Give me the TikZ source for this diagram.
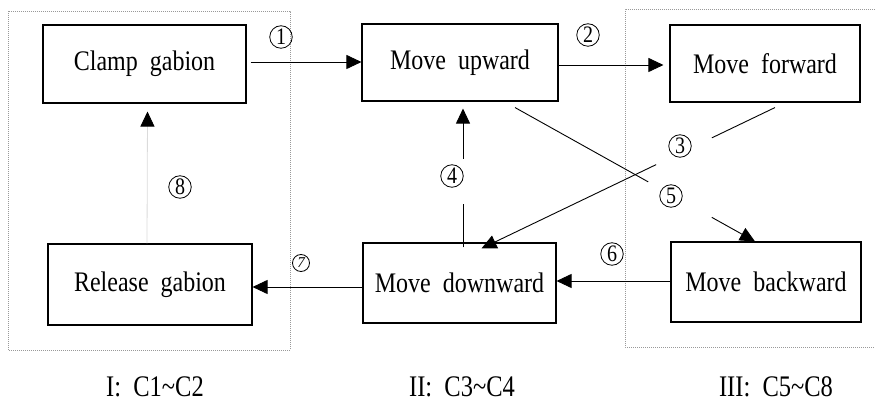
\documentclass[tikz,border=0pt]{standalone}
\usepackage{fontspec}
\usepackage{graphicx}
\setmainfont{Liberation Serif}
\usetikzlibrary{arrows.meta,calc}
\newcommand\vstretch[1]{\scalebox{1}[1.18]{#1}}
\begin{document}
\begin{tikzpicture}[x=1pt,y=-1pt,
  box/.style={draw,line width=1.1pt,rectangle,inner sep=0pt,font=\fontsize{24}{28}\selectfont},
  arr/.style={line width=0.9pt,-{Triangle[length=15pt,width=14pt]}},
  ln/.style={line width=0.9pt},
  num/.style={circle,draw,line width=0.8pt,minimum size=22.5pt,inner sep=0pt,font=\fontsize{20}{20}\selectfont},
  region/.style={draw=gray!80,line width=0.7pt,dash pattern=on 0.9pt off 1.1pt},
  dotarr/.style={draw=gray!80,line width=0.8pt,dash pattern=on 0.9pt off 1.1pt,-{Triangle[length=15pt,width=14pt,color=black]}},
  captext/.style={anchor=base,inner sep=0pt,font=\fontsize{24.5}{30}\selectfont}]
\useasboundingbox (0,0) rectangle (875,403);
% regions
\draw[region] (8,11) rectangle (290,350);
\draw[region] (875,9) -- (625,9) -- (625,347) -- (875,347);
% boxes
\node[box,minimum width=203pt,minimum height=78pt] (clamp) at (144.5,64) {\vstretch{Clamp~~gabion}};
\node[box,minimum width=196pt,minimum height=77pt] (up) at (460,62.5) {\vstretch{Move~~upward}};
\node[box,minimum width=190pt,minimum height=77pt] (fwd) at (765,63.5) {\vstretch{Move~~forward}};
\node[box,minimum width=204pt,minimum height=81pt] (rel) at (150,284.5) {\vstretch{Release~~gabion}};
\node[box,minimum width=193pt,minimum height=80pt] (down) at (459.5,283) {\vstretch{Move~~downward}};
\node[box,minimum width=190pt,minimum height=80pt] (back) at (766,282) {\vstretch{Move~~backward}};
% helper coordinates
\coordinate (a3) at ([xshift=10pt,yshift=-5pt]fwd.south);
\coordinate (b3) at ([xshift=22pt,yshift=-6pt]down.north);
\coordinate (a5) at ([xshift=55pt,yshift=-6pt]up.south);
\coordinate (b5) at ([xshift=-11pt]back.north);
\coordinate (a4) at ([xshift=3.5pt,yshift=-5pt]down.north);
\coordinate (b4) at ([xshift=3pt,yshift=-7pt]up.south);
% arrows
\draw[arr] ([xshift=4pt]clamp.east |- 0,62) -- (up.west |- 0,62);
\draw[arr] (up.east |- 0,65) -- ([xshift=-6pt]fwd.west |- 0,65);
\draw[ln] (a3) -- ($(a3)!0.215!(b3)$);
\draw[arr] ($(a3)!0.405!(b3)$) -- (b3);
\draw[ln] (a5) -- ($(a5)!0.555!(b5)$);
\draw[arr] ($(a5)!0.82!(b5)$) -- (b5);
\draw[ln] (a4) -- ($(a4)!0.31!(b4)$);
\draw[arr] ($(a4)!0.64!(b4)$) -- (b4);
\draw[arr] (back.west |- 0,281) -- (down.east |- 0,281);
\draw[arr] (down.west |- 0,287) -- (rel.east |- 0,287);
\draw[dotarr] ([xshift=-3pt]rel.north) -- ([xshift=3pt,yshift=-8pt]clamp.south);
% numbers
\node[num] (n1) at (281,37) {\vstretch{1}};
\node[num] (n2) at (588,35) {\vstretch{2}};
\node[num] (n3) at (680,146) {\vstretch{3}};
\node[num] (n4) at (452,176) {\vstretch{4}};
\node[num] (n5) at (671,196) {\vstretch{5}};
\node[num] (n6) at (612,254) {\vstretch{6}};
\node[num,minimum size=17pt,font=\fontsize{15}{15}\selectfont\itshape] (n7) at (301,263) {7};
\node[num] (n8) at (180,187) {\vstretch{8}};
% captions
\node[captext] (c1) at (155,396) {\scalebox{1}[1.22]{I:~~C1\textasciitilde C2}};
\node[captext] (c2) at (462,396) {\scalebox{1}[1.22]{II:~~C3\textasciitilde C4}};
\node[captext] (c3) at (776,396) {\scalebox{1}[1.22]{III:~~C5\textasciitilde C8}};
\end{tikzpicture}
\end{document}
